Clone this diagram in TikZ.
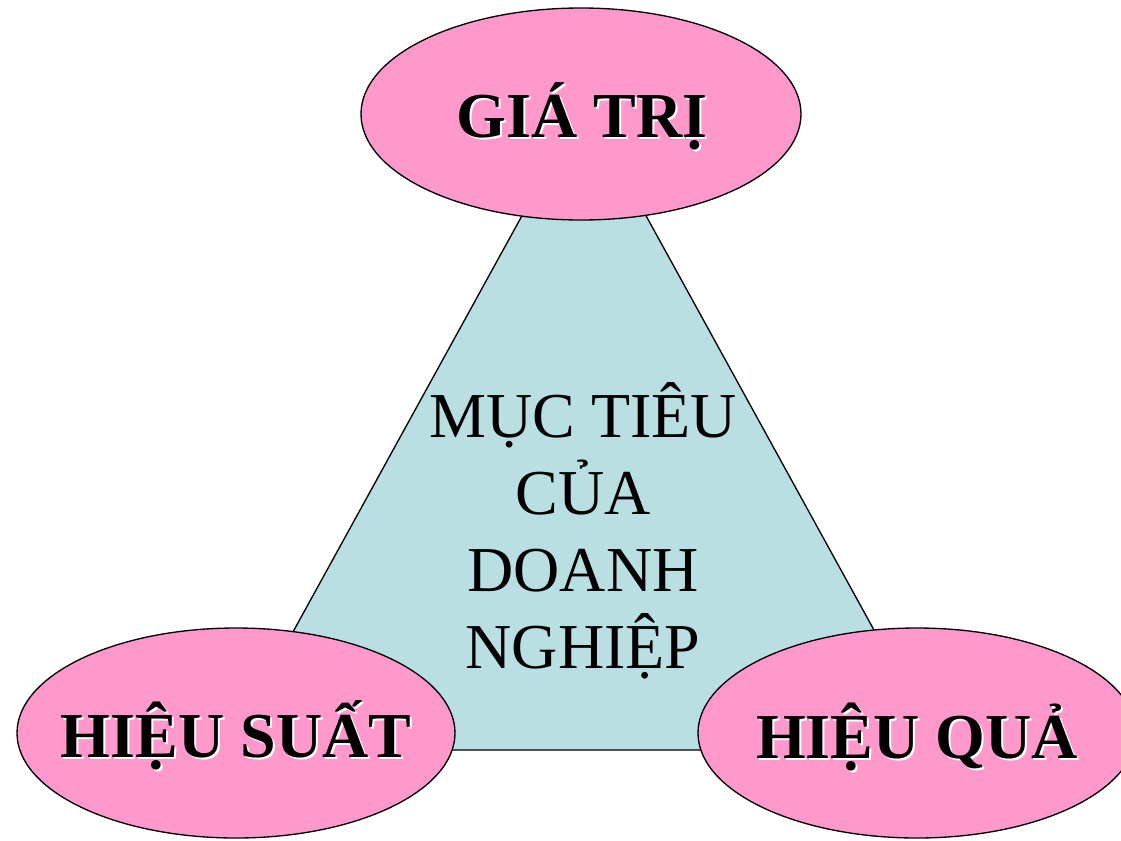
\documentclass[tikz,border=0pt]{standalone}
\usepackage{fontspec}
\setmainfont{Liberation Serif}
\usetikzlibrary{shapes.geometric}
\definecolor{pinkfill}{HTML}{FF99CC}
\definecolor{trifill}{HTML}{B9DFE3}
\begin{document}
\begin{tikzpicture}[x=0.75pt,y=-0.75pt,
  ell/.style={ellipse, draw=black, line width=1pt, fill=pinkfill, inner sep=0pt},
  lbl/.style={anchor=base, inner sep=0pt, font=\fontsize{48}{58}\selectfont\bfseries},
  shade/.style={lbl, text=white},
  centertext/.style={align=center, inner sep=0pt, font=\fontsize{48}{57.75}\selectfont}]
\useasboundingbox (0,0) rectangle (1121,840);
\fill[white] (0,0) rectangle (1121,840);
\coordinate (apex) at (584,103);
\coordinate (bl) at (228,750);
\coordinate (br) at (940,750);
\draw[fill=trifill, line width=1pt] (apex) -- (bl) -- (br) -- cycle;
\node[centertext, anchor=base] (goal) at (583,668) {MỤC TIÊU\\CỦA\\DOANH\\NGHIỆP};
\node[ell, minimum width=330pt, minimum height=159pt] (top) at (581,114) {};
\node[ell, minimum width=328.5pt, minimum height=157.5pt] (left) at (236,733) {};
\node[ell, minimum width=328.5pt, minimum height=157.5pt] (right) at (917,733) {};
\node[shade] at (584,139) {GIÁ TRỊ};
\node[lbl] (toplbl) at (582,137) {GIÁ TRỊ};
\node[shade] at (238,759) {HIỆU SUẤT};
\node[lbl] (leftlbl) at (236,757) {HIỆU SUẤT};
\node[shade] at (919,760) {HIỆU QUẢ};
\node[lbl] (rightlbl) at (917,758) {HIỆU QUẢ};
\end{tikzpicture}
\end{document}
